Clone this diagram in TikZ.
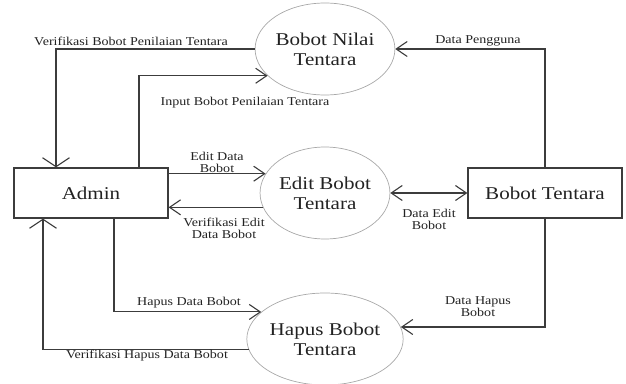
\documentclass[tikz,border=0pt]{standalone}
\usepackage{fontspec}
\setmainfont{Liberation Serif}[FakeStretch=1.17]
\usetikzlibrary{arrows.meta,calc,shapes.geometric}
\definecolor{ink}{HTML}{222222}
\definecolor{wire}{HTML}{3C3C3C}
\definecolor{rim}{HTML}{A8A8A8}
\begin{document}
\begin{tikzpicture}[x=1pt,y=-1pt,
  entity/.style={draw=wire,line width=1.2pt,minimum width=154pt,minimum height=50pt,
    inner sep=0pt,font=\fontsize{18}{20}\selectfont,text=ink},
  process/.style={ellipse,draw=rim,line width=0.7pt,minimum width=124pt,minimum height=92pt,
    inner sep=0pt,align=center,font=\fontsize{18}{20}\selectfont,text=ink},
  flowlabel/.style={font=\fontsize{12}{12}\selectfont,text=ink,align=center,inner sep=0pt},
  hflow/.style={draw=wire,line width=1.1pt,-{Straight Barb[length=11pt,width=15pt,line width=1.1pt]}},
  vflow/.style={draw=wire,line width=1.1pt,-{Straight Barb[length=9pt,width=27pt,line width=1.1pt]}},
  both/.style={draw=wire,line width=1.1pt,
    {Straight Barb[length=11pt,width=15pt,line width=1.1pt]}-{Straight Barb[length=11pt,width=15pt,line width=1.1pt]}}
]
\useasboundingbox (0,0) rectangle (626,383);

% external entities
\node[entity] (admin) at (91,193) {Admin};
\node[entity] (bt) at (545,193) {Bobot Tentara};

% processes
\node[process] (e1) at (325,49) {Bobot Nilai\\Tentara};
\node[process] (e2) at (325,193) {Edit Bobot\\Tentara};
\node[process] (e3) at (325,339) {Hapus Bobot\\Tentara};

% flows around "Bobot Nilai Tentara"
\draw[vflow] (e1.west) -| ([xshift=-35pt]admin.north);
\draw[hflow] ([xshift=48pt]admin.north) |- (e1.205);
\draw[hflow] (bt.north) |- (e1.east);

% flows around "Edit Bobot Tentara"
\draw[hflow] (e2.162 -| admin.east) -- (e2.162);
\draw[hflow] (e2.193) -- (e2.193 -| admin.east);
\draw[both] (e2.east) -- (bt.west);

% flows around "Hapus Bobot Tentara"
\draw[hflow] ([xshift=23pt]admin.south) |- (e3.157);
\draw[vflow] (e3.188) -| ([xshift=-48pt]admin.south);
\draw[hflow] (bt.south) |- (e3.9);

% flow labels
\node[flowlabel] (l1) at (131,41) {Verifikasi Bobot Penilaian Tentara};
\node[flowlabel] (l2) at (245,103) {Input Bobot Penilaian Tentara};
\node[flowlabel] (l3) at (478,41) {Data Pengguna};
\node[flowlabel] (l4) at (217,162) {Edit Data\\Bobot};
\node[flowlabel] (l5) at (224,228) {Verifikasi Edit\\Data Bobot};
\node[flowlabel] (l6) at (429,219) {Data Edit\\Bobot};
\node[flowlabel] (l7) at (189,303) {Hapus Data Bobot};
\node[flowlabel] (l8) at (147,356) {Verifikasi Hapus Data Bobot};
\node[flowlabel] (l9) at (478,307) {Data Hapus\\Bobot};
\end{tikzpicture}
\end{document}
